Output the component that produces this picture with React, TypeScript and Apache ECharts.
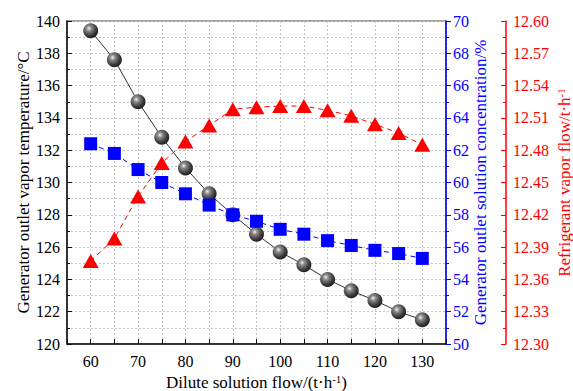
import React, { useEffect, useRef } from "react";
import * as echarts from "echarts";

// Dilute solution flow (t/h)
const flows = [60, 65, 70, 75, 80, 85, 90, 95, 100, 105, 110, 115, 120, 125, 130];
// Generator outlet vapor temperature (°C)
const vaporTemperature = [139.4, 137.6, 135.0, 132.8, 130.9, 129.3, 128.0, 126.8, 125.7, 124.9, 124.0, 123.3, 122.7, 122.0, 121.5];
// Generator outlet solution concentration (%)
const solutionConcentration = [62.4, 61.8, 60.8, 60.0, 59.3, 58.6, 58.0, 57.6, 57.1, 56.8, 56.4, 56.1, 55.8, 55.6, 55.3];
// Refrigerant vapor flow (t/h)
const refrigerantFlow = [12.377, 12.398, 12.437, 12.468, 12.488, 12.503, 12.518, 12.520, 12.521, 12.521, 12.517, 12.512, 12.504, 12.496, 12.485];

const FONT = "Liberation Serif";
const gridLine = { show: true, lineStyle: { color: "#c4c4c4", type: [2, 2] as any, width: 1 } };

// Rich-text styles for titles with a raised "-1" exponent
const titleRich = (color: string) => ({
  b: { fontSize: 17, lineHeight: 18, color, fontFamily: FONT, verticalAlign: "middle" },
  sup: { fontSize: 11, lineHeight: 8, color, fontFamily: FONT, verticalAlign: "top" },
});

// Tick labels drawn as rich text so the serif face is kept
const tickLabel = (color: string, fmt: (v: number) => string) => ({
  fontSize: 16,
  color,
  fontFamily: FONT,
  formatter: (v: number) => {
    const s = fmt(v);
    return s ? `{t|${s}}` : "";
  },
  rich: { t: { fontSize: 16, color, fontFamily: FONT } },
});

export default function App() {
  const ref = useRef<HTMLDivElement>(null);

  useEffect(() => {
    if (!ref.current) return;
    const chart = echarts.init(ref.current, null, { renderer: "svg" });
    const pair = (ys: number[]) => flows.map((x, i) => [x, ys[i]]);

    chart.setOption({
      animation: false,
      textStyle: { fontFamily: FONT },
      grid: {
        left: 67,
        right: 127,
        top: 21,
        bottom: 47,
        containLabel: false,
        outerBoundsMode: "none",
        show: true,
        borderColor: "#444",
        borderWidth: 1.2,
      },
      xAxis: {
        type: "value",
        min: 55,
        max: 135,
        interval: 5,
        name: "{b|Dilute solution flow/(t·h}{sup|-1}{b|)}",
        nameLocation: "middle",
        nameGap: 29,
        nameMoveOverlap: false,
        nameTextStyle: { fontSize: 17, color: "#000", fontFamily: FONT, rich: titleRich("#000") },
        axisLine: { lineStyle: { color: "#111", width: 1.5 } },
        axisTick: { inside: true, length: 5, lineStyle: { color: "#111" } },
        axisLabel: { ...tickLabel("#000", (v) => (v % 10 === 0 ? String(v) : "")), margin: 9 },
        splitLine: gridLine,
      },
      yAxis: [
        {
          type: "value",
          position: "left",
          min: 120,
          max: 140,
          interval: 2,
          name: "Generator outlet vapor temperature/°C",
          nameLocation: "middle",
          nameGap: 35,
          nameMoveOverlap: false,
          nameTextStyle: { fontSize: 17, color: "#000", fontFamily: FONT },
          axisLine: { show: true, lineStyle: { color: "#111", width: 1.5 } },
          axisTick: { inside: true, length: 5, lineStyle: { color: "#111" } },
          minorTick: { show: true, splitNumber: 2, length: 3, lineStyle: { color: "#111" } },
          axisLabel: { ...tickLabel("#000", (v) => String(v)), margin: 7 },
          splitLine: gridLine,
          minorSplitLine: gridLine,
        },
        {
          type: "value",
          position: "right",
          min: 50,
          max: 70,
          interval: 2,
          name: "Generator outlet solution concentration/%",
          nameLocation: "middle",
          nameGap: 26,
          nameMoveOverlap: false,
          nameRotate: 90,
          nameTextStyle: { fontSize: 17, color: "#0000ff", fontFamily: FONT },
          axisLine: { show: true, lineStyle: { color: "#0000ff", width: 1.5 } },
          axisTick: { inside: false, length: 5, lineStyle: { color: "#0000ff" } },
          minorTick: { show: true, splitNumber: 2, length: 3, lineStyle: { color: "#0000ff" } },
          axisLabel: { ...tickLabel("#0000ff", (v) => String(v)), margin: 7 },
          splitLine: { show: false },
        },
        {
          type: "value",
          position: "right",
          offset: 60,
          min: 12.3,
          max: 12.6,
          interval: 0.03,
          name: "{b|Refrigerant vapor flow/t·h}{sup|-1}",
          nameLocation: "middle",
          nameGap: 49,
          nameMoveOverlap: false,
          nameRotate: 90,
          nameTextStyle: { fontSize: 17, color: "#ff0000", fontFamily: FONT, rich: titleRich("#ff0000") },
          axisLine: { show: true, lineStyle: { color: "#ff0000", width: 1.5 } },
          axisTick: { inside: true, length: 5, lineStyle: { color: "#ff0000" } },
          minorTick: { show: true, splitNumber: 2, length: 3, lineStyle: { color: "#ff0000" } },
          axisLabel: { ...tickLabel("#ff0000", (v) => v.toFixed(2)), margin: 7 },
          splitLine: { show: false },
        },
      ],
      series: [
        {
          type: "line",
          yAxisIndex: 0,
          data: pair(vaporTemperature),
          symbol: "circle",
          symbolSize: 15,
          lineStyle: { color: "#333", width: 1 },
          itemStyle: {
            color: {
              type: "radial",
              x: 0.38,
              y: 0.35,
              r: 0.7,
              colorStops: [
                { offset: 0, color: "#f2f2f2" },
                { offset: 0.25, color: "#8a8a8a" },
                { offset: 0.7, color: "#3a3a3a" },
                { offset: 1, color: "#1a1a1a" },
              ],
            },
          },
          z: 3,
        },
        {
          type: "line",
          yAxisIndex: 1,
          data: pair(solutionConcentration),
          symbol: "rect",
          symbolSize: 13,
          lineStyle: { color: "#0000ff", width: 1, type: [5, 4] },
          itemStyle: { color: "#0000ff" },
          z: 4,
        },
        {
          type: "line",
          yAxisIndex: 2,
          data: pair(refrigerantFlow),
          symbol: "triangle",
          symbolSize: [16, 14],
          lineStyle: { color: "#ff0000", width: 1, type: [5, 4] },
          itemStyle: { color: "#ff0000" },
          z: 5,
        },
      ],
    });

    return () => chart.dispose();
  }, []);

  return <div ref={ref} style={{ width: 573, height: 391, position: "absolute", left: 0, top: 0 }} />;
}
